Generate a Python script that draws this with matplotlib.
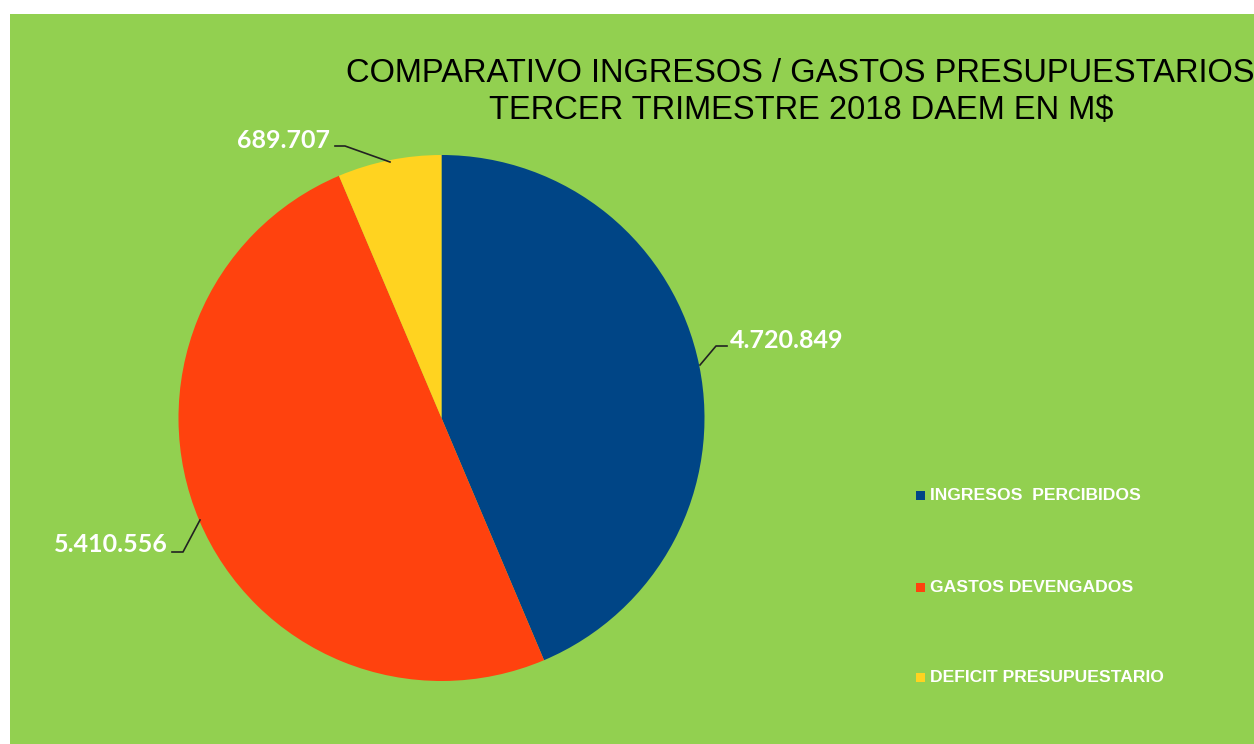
import matplotlib.pyplot as plt
from matplotlib.patches import Rectangle

categorias = ['INGRESOS  PERCIBIDOS', 'GASTOS DEVENGADOS', 'DEFICIT PRESUPUESTARIO']
valores = [4720849, 5410556, 689707]
etiquetas = ['4.720.849', '5.410.556', '689.707']
colores = ['#004586', '#ff420e', '#ffd320']
verde = '#92d050'

W, H = 1254, 744
fig = plt.figure(figsize=(W / 100, H / 100), dpi=100)
fig.patch.set_facecolor('white')
ax = fig.add_axes([0, 0, 1, 1])
ax.set_xlim(0, W)
ax.set_ylim(0, H)
ax.set_aspect('equal')
ax.axis('off')

# fondo verde del grafico
ax.add_patch(Rectangle((10, 0), W - 10, H - 14, facecolor=verde, edgecolor='none', zorder=0))

cx, cy, r = 441.5, H - 418, 263
wedges, _ = ax.pie(valores, colors=colores, startangle=90, counterclock=False,
                   center=(cx, cy), radius=r, frame=True,
                   wedgeprops=dict(linewidth=0))
ax.set_xlim(0, W)
ax.set_ylim(0, H)
ax.axis('off')

# etiquetas de datos con lineas guia (coordenadas en pixeles de la imagen)
guias = [
    ([700, 716, 727], [365, 346, 346], 730, 340, 'left'),
    ([200, 183, 172], [520, 552, 552], 168, 545, 'right'),
    ([390, 345, 335], [162, 146, 146], 330, 140, 'right'),
]
for (xs, ys, tx, ty, ha), txt in zip(guias, etiquetas):
    ax.plot(xs, [H - y for y in ys], color='#222222', lw=1.2, zorder=3)
    ax.text(tx, H - ty, txt, color='white', fontsize=18, fontweight='bold',
            family='Lato', ha=ha, va='center', zorder=4)

# titulo
ax.text(800, H - 73, 'COMPARATIVO INGRESOS / GASTOS PRESUPUESTARIOS', fontsize=23.5,
        family='Liberation Sans', ha='center', va='center', color='black')
ax.text(801, H - 110, 'TERCER TRIMESTRE 2018 DAEM EN M$', fontsize=23.5,
        family='Liberation Sans', ha='center', va='center', color='black')

# leyenda
filas_y = [495, 587, 677]
for cat, col, y in zip(categorias, colores, filas_y):
    ax.add_patch(Rectangle((916, H - y - 5), 9, 9, facecolor=col, edgecolor='none', zorder=4))
    ax.text(930, H - y, cat, color='white', fontsize=12.6, fontweight='bold',
            family='Liberation Sans', ha='left', va='center', zorder=4)

fig.savefig('out.png', dpi=100, facecolor=fig.get_facecolor())
